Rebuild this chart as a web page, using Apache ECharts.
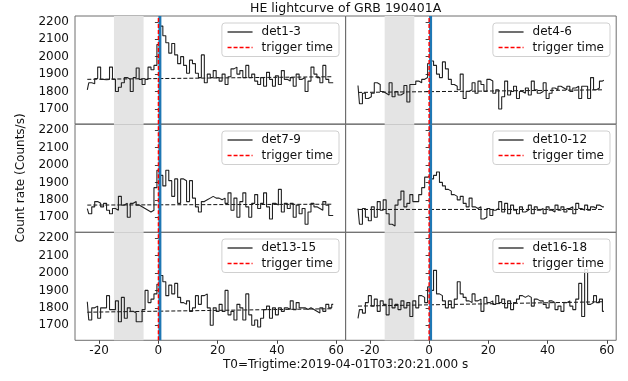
<!DOCTYPE html>
<html>
<head>
<meta charset="utf-8">
<script src="https://cdn.jsdelivr.net/npm/echarts@6/dist/echarts.min.js"></script>
<style>
html, body { margin: 0; padding: 0; background: #fff; }
#chart { width: 628px; height: 381px; }
</style>
</head>
<body>
<div id="chart"></div>
<script>
// Bin times relative to T0 (s)
const timeBins = [
  -24,-23,-22,-21,-20,-19,-18,-17,-16,-15,-14,-13,-12,-11,-10,-9,-8,-7,-6,-5,-4,-3,-2,-1,
  0,1,2,3,4,5,6,7,8,9,10,11,12,13,14,15,16,17,18,19,20,21,22,23,24,25,26,27,28,29,
  30,31,32,33,34,35,36,37,38,39,40,41,42,43,44,45,46,47,48,49,50,51,52,53,54,55,56,57,58,59
];

// Count rates (Counts/s) per detector group
const det1_3 = [
  1810,1850,1845,1875,1940,1870,1868,1870,1940,1870,1800,1825,1850,1880,1870,1800,1880,1935,1870,1840,1870,1940,1925,1950,
  2070,2175,2120,2080,2020,2075,2010,1960,2000,1950,
  1905,1980,1960,1905,1880,2010,1850,1900,1880,1920,
  1880,1860,1900,1840,1885,1930,1940,1900,1920,1880,
  1950,1880,1900,1860,1840,1880,1830,1910,1870,1830,
  1890,1840,1920,1870,1860,1880,1830,1900,1870,1880,
  1800,1860,1940,1900,1880,1850,1950,1870,1850,1850
];
const det4_6 = [
  1835,1730,1790,1760,1770,1790,1850,1840,1800,1790,1780,1850,1770,1800,1780,1790,1835,1740,1840,1840,1860,1850,1870,1880,
  1960,1975,1950,1900,1880,1970,1930,1870,1840,1830,
  1810,1900,1760,1800,1810,1850,1790,1860,1840,1800,
  1870,1860,1790,1810,1700,1770,1860,1780,1800,1830,
  1760,1800,1790,1820,1780,1860,1810,1790,1800,1850,
  1760,1790,1820,1810,1830,1820,1810,1830,1800,1820,
  1830,1760,1830,1830,1760,1880,1810,1820,1860,1865
];
const det7_9 = [
  1750,1720,1760,1790,1780,1760,1780,1740,1720,1750,1740,1820,1770,1780,1700,1780,1790,1770,1760,1750,1740,1730,1740,1870,
  1970,1940,1880,1970,1910,1820,1920,1780,1920,1910,
  1790,1910,1810,1760,1730,1790,1800,1810,1820,1810,
  1810,1800,1810,1780,1840,1740,1810,1700,1790,1840,
  1760,1700,1780,1830,1750,1780,1840,1760,1690,1780,
  1770,1860,1730,1780,1750,1780,1700,1770,1720,1750,
  1660,1730,1780,1760,1750,1740,1790,1770,1710,1710
];
const det10_12 = [
  1750,1660,1750,1700,1680,1760,1700,1790,1740,1800,1720,1660,1650,1770,1800,1850,1760,1780,1830,1790,1790,1830,1870,1930,
  1940,1920,1940,1960,1900,1880,1860,1850,1830,1820,
  1800,1820,1780,1760,1810,1760,1750,1760,1690,1700,
  1750,1710,1740,1750,1790,1730,1780,1720,1770,1740,
  1720,1760,1730,1740,1770,1720,1760,1740,1750,1720,
  1760,1740,1730,1770,1740,1760,1730,1750,1760,1720,
  1780,1750,1740,1770,1740,1760,1750,1770,1760,1760
];
const det13_15 = [
  1835,1730,1800,1810,1740,1800,1800,1870,1790,1790,1840,1720,1860,1740,1800,1780,1770,1720,1720,1790,1900,1830,1850,1880,
  1935,1985,1950,1870,1930,1880,1940,1860,1830,1820,
  1840,1780,1800,1870,1820,1870,1880,1800,1700,1800,
  1780,1820,1780,1900,1760,1780,1730,1820,1800,1730,
  1880,1760,1700,1730,1690,1740,1790,1810,1740,1800,
  1760,1800,1780,1800,1790,1840,1790,1830,1800,1800,
  1790,1800,1790,1780,1770,1800,1780,1820,1800,1820
];
const det16_18 = [
  1740,1790,1770,1830,1870,1810,1850,1780,1840,1820,1760,1850,1800,1820,1790,1840,1800,1830,1750,1840,1800,1870,1860,1830,
  1920,1900,2015,1880,1870,1840,1800,1840,1800,1850,
  1950,1880,1860,1840,1830,1880,1840,1850,1780,1860,
  1830,1840,1820,1870,1830,1850,1800,1840,1790,1830,
  1850,1870,1860,1870,1860,1810,1850,1840,1840,1820,
  1800,1840,1830,1790,1810,1780,1830,1840,1810,1790,
  1850,1940,1750,2020,1820,1830,1870,1830,1850,1780
];

const detectorNames = ['det1-3', 'det4-6', 'det7-9', 'det10-12', 'det13-15', 'det16-18'];
const detectorRates = [det1_3, det4_6, det7_9, det10_12, det13_15, det16_18];

// Fitted background level at the first and last bin
const backgroundStart = [1870, 1795, 1770, 1745, 1775, 1810];
const backgroundEnd   = [1885, 1810, 1775, 1745, 1795, 1835];

const triggerTime = 0;
const burstTime = 0.5;
const backgroundWindow = [-15, -5];

const yTicks = [1700, 1800, 1900, 2000, 2100, 2200];
const xTicks = [-20, 0, 20, 40, 60];
const xRange = [-28.15, 63.15];
const yRange = [1614, 2233];

const titleText = 'HE lightcurve of GRB 190401A';
const xTitle = 'T0=Trigtime:2019-04-01T03:20:21.000 s';
const yTitle = 'Count rate (Counts/s)';

// ---- layout of the 3 x 2 panel grid ----
const FONT = 'DejaVu Sans';
const colLeft = [75, 345.7];
const colWidth = 270.5;
const rowTop = [16, 124.3, 232.3];
const rowHeight = 108;
const plotCenterX = (colLeft[0] + colLeft[1] + colWidth) / 2;

const curveColor = '#222';
const triggerColor = '#ff0000';
const dashPattern = [4, 2];

const grids = [], xAxes = [], yAxes = [], series = [], legends = [];
const plain = v => String(v);

detectorNames.forEach((name, i) => {
  const col = i % 2, row = Math.floor(i / 2);
  const left = colLeft[col], top = rowTop[row];
  const isBottom = row === 2, isLeft = col === 0;

  grids.push({
    left: left, top: top, width: colWidth, height: rowHeight,
    show: true, borderColor: '#6e6e6e', borderWidth: 1, backgroundColor: 'transparent'
  });

  xAxes.push({
    type: 'value', gridIndex: i, min: xRange[0], max: xRange[1],
    axisLine: { show: false },
    splitLine: { show: false },
    axisTick: { show: isBottom, customValues: xTicks, length: 3.5, lineStyle: { color: '#444' } },
    axisLabel: { show: isBottom, customValues: xTicks, margin: 5, formatter: plain,
      fontFamily: FONT, fontSize: 12, color: '#111' }
  });

  yAxes.push({
    type: 'value', gridIndex: i, min: yRange[0], max: yRange[1],
    axisLine: { show: false },
    splitLine: { show: false },
    axisTick: { show: true, customValues: yTicks, length: 3.5, lineStyle: { color: '#444' } },
    axisLabel: { show: isLeft, customValues: yTicks, margin: 6, formatter: plain,
      fontFamily: FONT, fontSize: 12, color: '#111' }
  });

  const rates = detectorRates[i];
  const lastT = timeBins[timeBins.length - 1];

  // light curve
  series.push({
    name: name, type: 'line', xAxisIndex: i, yAxisIndex: i,
    step: 'middle', symbol: 'none', silent: true, z: 3,
    data: timeBins.map((t, k) => [t, rates[k]]),
    lineStyle: { color: curveColor, width: 1.1 },
    itemStyle: { color: curveColor },
    markArea: {
      silent: true,
      itemStyle: { color: '#e4e4e4' },
      data: [[{ xAxis: backgroundWindow[0] }, { xAxis: backgroundWindow[1] }]]
    }
  });

  // fitted background
  series.push({
    name: 'bkg' + i, type: 'line', xAxisIndex: i, yAxisIndex: i,
    symbol: 'none', silent: true, z: 2,
    data: [[timeBins[0], backgroundStart[i]], [lastT, backgroundEnd[i]]],
    lineStyle: { color: '#111', width: 1, type: dashPattern }
  });

  // burst onset marker
  series.push({
    name: 'onset' + i, type: 'line', xAxisIndex: i, yAxisIndex: i,
    symbol: 'none', silent: true, z: 4,
    data: [[burstTime, yRange[0]], [burstTime, yRange[1]]],
    lineStyle: { color: '#1f77b4', width: 3 }
  });

  // trigger time
  series.push({
    name: 'trigger time', type: 'line', xAxisIndex: i, yAxisIndex: i,
    symbol: 'none', silent: true, z: 5,
    data: [[triggerTime, yRange[0]], [triggerTime, yRange[1]]],
    lineStyle: { color: triggerColor, width: 1.4, type: dashPattern },
    itemStyle: { color: triggerColor }
  });

  legends.push({
    orient: 'vertical',
    right: Math.round(628 - (left + colWidth) + 6),
    top: Math.round(top + 6.5),
    data: [
      { name: name, lineStyle: { color: curveColor, width: 1.3, type: 'solid' } },
      { name: 'trigger time', lineStyle: { color: triggerColor, width: 1.3, type: dashPattern } }
    ],
    itemWidth: 25, itemHeight: 14, itemGap: 3.5,
    padding: [3, 6, 3, 5],
    backgroundColor: 'rgba(255,255,255,0.85)',
    borderColor: '#d0d0d0', borderWidth: 1, borderRadius: 3,
    selectedMode: false,
    itemStyle: { opacity: 0 },
    textStyle: { fontFamily: FONT, fontSize: 12, color: '#111', padding: [0, 0, 0, 4] },
    z: 10
  });
});

const chart = echarts.init(document.getElementById('chart'), null, { renderer: 'canvas' });
chart.setOption({
  animation: false,
  backgroundColor: '#fff',
  title: [
    { text: titleText, left: plotCenterX, textAlign: 'center', top: 2, itemGap: 0, padding: 0,
      textStyle: { fontFamily: FONT, fontSize: 12.5, fontWeight: 'normal', color: '#111' } },
    { text: xTitle, left: plotCenterX, textAlign: 'center', top: 359, padding: 0,
      textStyle: { fontFamily: FONT, fontSize: 12, fontWeight: 'normal', color: '#111' } }
  ],
  graphic: [{
    type: 'text', x: 21, y: 178, rotation: Math.PI / 2,
    style: { text: yTitle, font: '12px "DejaVu Sans"', fill: '#111',
      textAlign: 'center', textVerticalAlign: 'middle' }
  }],
  legend: legends,
  grid: grids,
  xAxis: xAxes,
  yAxis: yAxes,
  series: series
});
</script>
</body>
</html>
